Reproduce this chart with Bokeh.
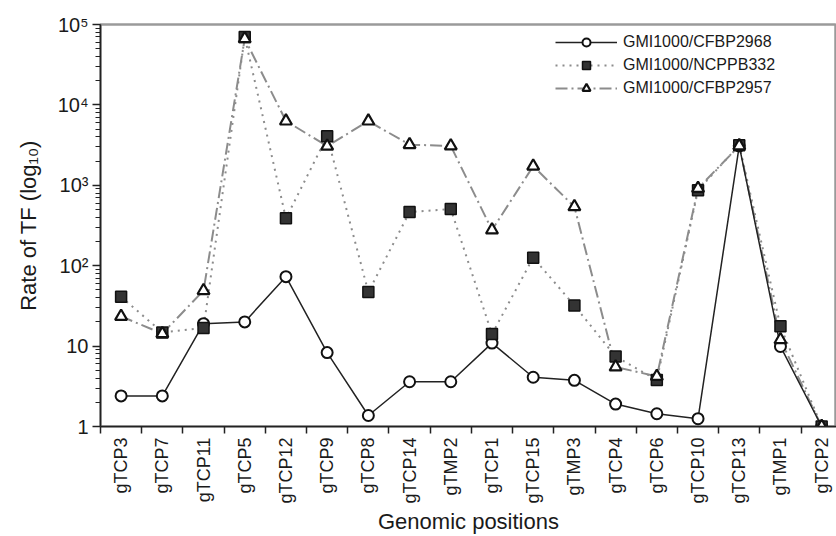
from bokeh.plotting import figure
from bokeh.models import (Range1d, FixedTicker, Legend, LegendItem, ColumnDataSource)
from bokeh.embed import file_html
from bokeh.resources import INLINE
from math import pi

cats = ["gTCP3", "gTCP7", "gTCP11", "gTCP5", "gTCP12", "gTCP9", "gTCP8", "gTCP14", "gTMP2",
        "gTCP1", "gTCP15", "gTMP3", "gTCP4", "gTCP6", "gTCP10", "gTCP13", "gTMP1", "gTCP2"]
cfbp2968 = [2.4, 2.4, 19, 20, 73, 8.3, 1.37, 3.6, 3.6, 10.9, 4.1, 3.75, 1.9, 1.44, 1.25, 3100, 9.9, 1.0]
ncppb332 = [41, 14.8, 16.8, 70000, 388, 4080, 47, 465, 507, 14.1, 126, 32, 7.4, 3.8, 870, 3160, 17.6, 1.0]
cfbp2957 = [23.4, 14.3, 49, 66500, 6300, 3070, 6300, 3200, 3090, 278, 1730, 541, 5.5, 4.2, 916, 3100, 12, 1.0]
y_ticks = [1, 10, 100, 1000, 10000, 100000]
y_tick_labels = ["1", "10", "10²", "10³", "10⁴", "10⁵"]

xs = list(range(len(cats)))
src = ColumnDataSource(dict(x=xs, a=cfbp2968, b=ncppb332, c=cfbp2957))

FONT = "Liberation Sans"
p = figure(width=836, height=536, output_backend="svg", toolbar_location=None,
           x_range=Range1d(-0.5, 17.36), y_range=Range1d(1, 100000), y_axis_type="log",
           min_border_left=100, min_border_top=24, min_border_bottom=109, min_border_right=0)
p.grid.visible = False
p.outline_line_color = "#9a9a9a"
p.outline_line_width = 2.5
p.background_fill_color = "white"
p.border_fill_color = "white"

# lines
l3 = p.line("x", "c", source=src, line_color="#8c8c8c", line_width=2, line_dash="12 4 2 4")
l2 = p.line("x", "b", source=src, line_color="#8c8c8c", line_width=2, line_dash="2 5")
l1 = p.line("x", "a", source=src, line_color="#222222", line_width=1.5)
s1 = p.scatter("x", "a", source=src, marker="circle", size=11, fill_color="white",
               line_color="#111111", line_width=2)
s2 = p.scatter("x", "b", source=src, marker="square", size=11, fill_color="#333333",
               line_color="#111111", line_width=1.5)
s3 = p.scatter("x", "c", source=src, marker="triangle", size=12, fill_color="white",
               line_color="#111111", line_width=2.2)

# x axis
xa = p.xaxis[0]
xa.ticker = FixedTicker(ticks=xs, minor_ticks=[i - 0.5 for i in range(len(cats))])
xa.major_label_overrides = {i: c for i, c in enumerate(cats)}
xa.major_label_orientation = pi / 2
xa.major_tick_out = 0
xa.major_tick_in = 0
xa.minor_tick_out = 7
xa.minor_tick_in = 0
xa.minor_tick_line_color = "#222222"
xa.minor_tick_line_width = 1.5
xa.axis_line_color = "#222222"
xa.axis_line_width = 1.5
xa.major_label_text_font = FONT
xa.major_label_text_font_size = "18px"
xa.major_label_text_color = "#1a1a1a"
xa.major_label_standoff = 4
xa.axis_label = "Genomic positions"
xa.axis_label_text_font = FONT
xa.axis_label_text_font_size = "22px"
xa.axis_label_text_font_style = "normal"
xa.axis_label_text_color = "#1a1a1a"
xa.axis_label_standoff = 2

ya = p.yaxis[0]
ya.ticker = FixedTicker(ticks=y_ticks,
                        minor_ticks=[m * t for t in y_ticks[:-1] for m in range(2, 10)])
ya.major_label_overrides = {t: l for t, l in zip(y_ticks, y_tick_labels)}
ya.major_tick_out = 8
ya.major_tick_in = 0
ya.minor_tick_out = 5
ya.minor_tick_in = 0
ya.major_tick_line_color = "#222222"
ya.minor_tick_line_color = "#222222"
ya.major_tick_line_width = 1.5
ya.minor_tick_line_width = 1
ya.axis_line_color = "#222222"
ya.axis_line_width = 1.5
ya.major_label_text_font = FONT
ya.major_label_text_font_size = "20px"
ya.major_label_text_color = "#1a1a1a"
ya.major_label_standoff = 4
ya.axis_label = "Rate of TF (log₁₀)"
ya.axis_label_text_font = FONT
ya.axis_label_text_font_size = "22px"
ya.axis_label_text_font_style = "normal"
ya.axis_label_text_color = "#1a1a1a"
ya.axis_label_standoff = 14

legend = Legend(items=[
    LegendItem(label="GMI1000/CFBP2968", renderers=[l1, s1]),
    LegendItem(label="GMI1000/NCPPB332", renderers=[l2, s2]),
    LegendItem(label="GMI1000/CFBP2957", renderers=[l3, s3]),
], location=(455, 328))
legend.border_line_color = None
legend.background_fill_alpha = 0
legend.padding = 0
legend.margin = 0
legend.spacing = 3
legend.glyph_width = 62
legend.glyph_height = 20
legend.label_height = 20
legend.label_standoff = 6
legend.label_text_font = FONT
legend.label_text_font_size = "16px"
legend.label_text_color = "#1a1a1a"
p.add_layout(legend, "center")

open("out.html", "w").write(file_html(p, INLINE))
